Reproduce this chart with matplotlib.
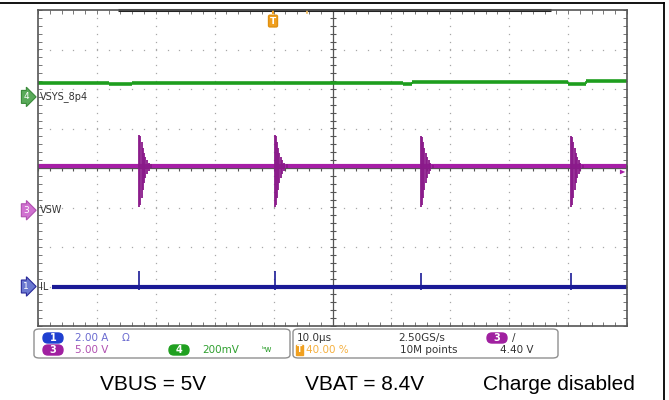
import numpy as np
import matplotlib
matplotlib.use('Agg')
import matplotlib.pyplot as plt
from matplotlib.patches import FancyBboxPatch, Polygon
from matplotlib.transforms import IdentityTransform

# 示波器截图: 横轴 10 格, 纵轴 8 格 (单位: 格)
# 通道4 VSYS_8p4 (绿色) 电平分段
vsys_x = [0.0, 0.7, 1.2, 1.6, 4.6, 6.2, 6.35, 9.0, 9.3, 10.0]
vsys_y = [2.14, 2.16, 2.12, 2.16, 2.15, 2.12, 2.18, 2.13, 2.19]

# 通道3 VSW (紫色) 基线和开关尖峰
vsw_base = 0.05
spike_x = [1.72, 4.02, 6.50, 9.05]
vsw_top = [0.84, 0.84, 0.82, 0.82]
vsw_bot = [-0.99, -0.99, -0.99, -0.99]
# 振铃衰减 (偏移格数, 幅度比例)
ring_dx = [0.0, 0.02, 0.04, 0.06, 0.08, 0.10, 0.13, 0.16, 0.20]
ring_k = [1.0, 0.95, 0.78, 0.58, 0.42, 0.30, 0.19, 0.11, 0.05]

# 通道1 IL (蓝色)
il_base = -3.0
il_x0 = 0.24
il_top = [-2.60, -2.60, -2.66, -2.66]
il_bot = [-3.10, -3.10, -3.08, -3.08]

W, H = 669, 400
fx = lambda p: p / W
fy = lambda p: 1 - p / H

fig = plt.figure(figsize=(W / 100, H / 100), dpi=100)
ax = fig.add_axes([fx(38), fy(326), fx(627) - fx(38), (326 - 10) / H])
ax.set_xlim(0, 10)
ax.set_ylim(-4, 4)

# 网格
grid_c = '#a8a8a8'
dots = np.arange(0, 10.01, 0.2)
doty = np.arange(-4, 4.01, 0.2)
for gx in range(1, 10):
    if gx != 5:
        ax.plot([gx] * len(doty), doty, ls='none', marker='s', ms=0.9, color=grid_c, mew=0)
for gy in range(-3, 4):
    if gy != 0:
        ax.plot(dots, [gy] * len(dots), ls='none', marker='s', ms=0.9, color=grid_c, mew=0)
ax.axvline(5, color='#555555', lw=0.9)
ax.axhline(0, color='#555555', lw=0.9)
ax.plot([5] * len(doty), doty, ls='none', marker='_', ms=4, color='#555555', mew=0.8)
ax.plot(dots, [0] * len(dots), ls='none', marker='|', ms=4, color='#555555', mew=0.8)

for s in ax.spines.values():
    s.set_color('#555555')
    s.set_linewidth(1.2)
ax.set_xticks(dots)
ax.set_yticks(doty)
ax.tick_params(direction='in', length=3, width=0.7, color='#777777',
               top=True, right=True, labelbottom=False, labelleft=False)
ax.plot([1.36, 8.71], [4, 4], color='#222222', lw=2.2, clip_on=False, solid_capstyle='butt')

# 通道4 绿色
ax.hlines(vsys_y, vsys_x[:-1], vsys_x[1:], color='#1e9e1e', lw=2.6)
ax.vlines(vsys_x[1:-1], np.minimum(vsys_y[:-1], vsys_y[1:]),
          np.maximum(vsys_y[:-1], vsys_y[1:]), color='#1e9e1e', lw=1.2)

# 通道3 紫色
ax.plot([0, 10], [vsw_base, vsw_base], color='#a61ea6', lw=3.0, solid_capstyle='butt')
for sx, st, sb in zip(spike_x, vsw_top, vsw_bot):
    for dx, k in zip(ring_dx, ring_k):
        ax.vlines(sx + dx, vsw_base + k * (sb - vsw_base), vsw_base + k * (st - vsw_base),
                  color='#8a1a8a', lw=1.3)

# 通道1 蓝色
ax.plot([il_x0, 10], [il_base, il_base], color='#1a1a96', lw=3.0, solid_capstyle='butt')
for sx, st, sb in zip(spike_x, il_top, il_bot):
    ax.vlines(sx, sb, st, color='#1a1a96', lw=1.2)

# 通道标签
lab_font = dict(fontsize=7, color='#333333', va='center', ha='left', family='DejaVu Sans')
ax.text(0.04, 1.80, 'VSYS_8p4', **lab_font)
ax.text(0.04, -1.07, 'VSW', **lab_font)
ax.text(0.04, -3.0, 'IL', **lab_font)

def ch_marker(yd, num, fc, ec):
    ax.text(-0.2, yd, num, fontsize=6.5, color='white', ha='center', va='center',
            clip_on=False,
            bbox=dict(boxstyle='rarrow,pad=0.22', fc=fc, ec=ec, lw=0.8))

ch_marker(1.80, '4', '#5aaa5a', '#3a8a3a')
ch_marker(-1.07, '3', '#d070d0', '#b050b0')
ch_marker(-3.0, '1', '#6a78d0', '#2a2a9a')

# 触发标记
ax.text(3.99, 3.72, 'T', fontsize=6.5, color='white', ha='center', va='center', weight='bold',
        bbox=dict(boxstyle='round,pad=0.15', fc='#f0a020', ec='#e09010'))
ax.plot([3.99, 3.99], [3.92, 4.0], color='#f0a020', lw=1.5)
ax.plot([4.57, 4.57], [3.93, 4.0], color='#f5c060', lw=1.2)
ax.add_patch(Polygon([[9.97, -0.1], [9.88, -0.04], [9.88, -0.16]], closed=True,
                     fc='#a61ea6', ec='none'))

# 信息栏
for x0, x1 in [(34, 290), (293, 558)]:
    fig.patches.append(FancyBboxPatch((fx(x0), fy(358)), fx(x1) - fx(x0), (358 - 329) / H,
                                      boxstyle='round,pad=0,rounding_size=0.008',
                                      transform=fig.transFigure, fc='white', ec='#909090',
                                      lw=1, zorder=1))

def badge(x, y, num, fc):
    fig.add_artist(FancyBboxPatch((x - 10, H - y - 5), 20, 10,
                                  boxstyle='round,pad=0,rounding_size=5',
                                  transform=IdentityTransform(), fc=fc, ec=fc, zorder=4))
    fig.text(fx(x), fy(y), num, fontsize=7, color='white', ha='center', va='center',
             weight='bold', zorder=5)

r1, r2 = 338, 350
info = dict(fontsize=7.5, va='center', ha='left', zorder=5)
badge(53, r1, '1', '#1f3fd0')
fig.text(fx(75), fy(r1), '2.00 A', color='#6a6ad0', **info)
fig.text(fx(122), fy(r1), 'Ω', color='#6a6ad0', **info)
badge(53, r2, '3', '#a020a0')
fig.text(fx(75), fy(r2), '5.00 V', color='#b050b0', **info)
badge(179, r2, '4', '#20a020')
fig.text(fx(202), fy(r2), '200mV', color='#30a030', **info)
fig.text(fx(262), fy(r2), 'ᵇw', color='#30a030', fontsize=6, va='center', ha='left', zorder=5)

fig.text(fx(297), fy(r1), '10.0µs', color='#333333', **info)
fig.text(fx(297), fy(r2), 'T', color='white', fontsize=5.5, va='center', ha='left', weight='bold',
         zorder=5, bbox=dict(boxstyle='square,pad=0.1', fc='#f0a020', ec='#f0a020'))
fig.text(fx(306), fy(r2), '40.00 %', color='#f5b040', **info)
fig.text(fx(398), fy(r1), '2.50GS/s', color='#333333', **info)
fig.text(fx(400), fy(r2), '10M points', color='#333333', **info)
badge(497, r1, '3', '#a020a0')
fig.text(fx(512), fy(r1), '/', color='#333333', **info)
fig.text(fx(500), fy(r2), '4.40 V', color='#333333', **info)

# 说明文字
cap = dict(fontsize=15, family='Liberation Sans', va='center', ha='left', color='black')
fig.text(fx(100), fy(385), 'VBUS = 5V', **cap)
fig.text(fx(305), fy(385), 'VBAT = 8.4V', **cap)
fig.text(fx(483), fy(385), 'Charge disabled', **cap)

# 外框
fig.add_artist(plt.Line2D([0, fx(664)], [fy(3), fy(3)], color='black', lw=1.3))
fig.add_artist(plt.Line2D([fx(664), fx(664)], [fy(3), 0], color='black', lw=1.3))

fig.savefig('out.png', dpi=100)
